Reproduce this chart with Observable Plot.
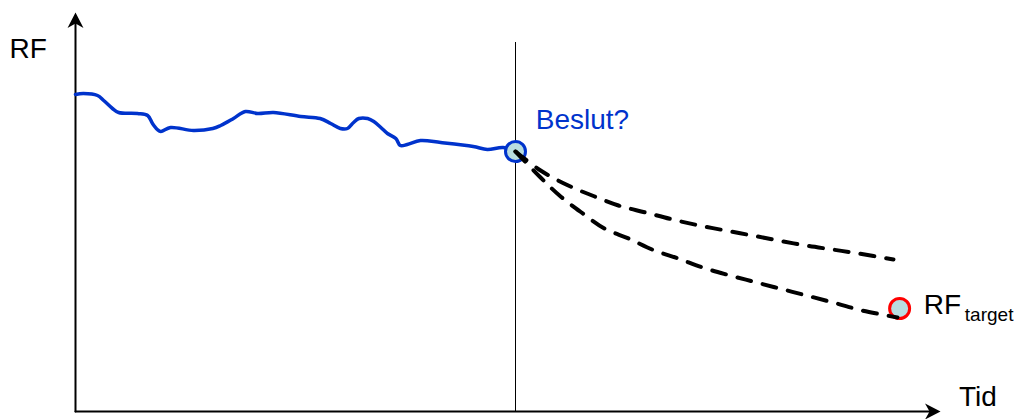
<!DOCTYPE html>
<html>
<head>
<meta charset="utf-8">
<script src="https://cdn.jsdelivr.net/npm/d3@7"></script>
<script src="https://cdn.jsdelivr.net/npm/@observablehq/plot@0.6"></script>
<style>
  html, body { margin: 0; padding: 0; background: #fff; }
  #chart { width: 1021px; height: 419px; }
</style>
</head>
<body>
<div id="chart"></div>
<script>
// Observed RF history (time units, RF units)
const historyT  = [0, 0.9, 2.5, 3.2, 4.2, 4.9, 7.05, 8.2, 8.75, 9.3, 9.7, 10.8, 13.4, 15.6, 16.5, 17.95, 19.3, 20.7, 22.5, 25.6, 27.8, 29.0, 30.1, 30.9, 31.6, 32.2, 33.2, 33.9, 34.7, 35.45, 36.4, 36.9, 37.7, 39.2, 41.5, 45.2, 46.8, 48.6, 50];
const historyRF = [79.25, 79.5, 79.0, 77.75, 75.75, 74.75, 74.5, 74.0, 72.0, 70.5, 70.0, 71.0, 70.25, 70.75, 71.5, 73.25, 75.0, 74.5, 74.75, 73.75, 73.25, 72.0, 70.75, 70.75, 72.25, 73.25, 73.25, 72.5, 71.0, 69.5, 68.25, 66.5, 66.75, 67.75, 67.25, 66.25, 65.5, 66.0, 65.0];

// Projected scenarios after the decision
const upperT  = [50, 52.85, 56.0, 59.0, 61.7, 64.8, 67.85, 70.9, 73.85, 76.9, 79.9, 82.95, 86.0, 89.0, 92.95];
const upperRF = [65, 60.25, 56.5, 53.75, 51.5, 49.75, 48.0, 46.5, 45.25, 44.0, 42.75, 41.5, 40.5, 39.5, 38.0];
const lowerT  = [50, 52.85, 55.0, 57.5, 60.1, 62.85, 65.8, 68.5, 71.25, 74.4, 77.4, 80.45, 83.5, 86.5, 89.4, 93.4];
const lowerRF = [65, 58.5, 54.0, 49.75, 45.75, 43.25, 40.25, 38.25, 36.0, 34.0, 32.25, 30.5, 28.75, 27.0, 25.25, 23.5];

// Key points
const decisionT = 50, decisionRF = 65, decisionRuleTop = 92.25;
const targetT = 93.65, targetRF = 25.75;

// Axis extents
const axisEndT = 98.3, axisEndRF = 99.75;

// Labels
const labelTexts = ["RF", "Tid", "Beslut?", "RF"];
const labelT     = [-7.5, 100.4, 52.3, 96.4];
const labelRF    = [88.5, 1.5, 70.75, 24.5];
const labelColor = ["#000", "#000", "#0033cc", "#000"];
const subText = "target";

const history = historyT.map((t, i) => ({t, rf: historyRF[i]}));
const scenarios = [
  ...upperT.map((t, i) => ({t, rf: upperRF[i], s: "upper"})),
  ...lowerT.map((t, i) => ({t, rf: lowerRF[i], s: "lower"}))
];
const labels = labelTexts.map((text, i) => ({text, t: labelT[i], rf: labelRF[i], c: labelColor[i]}));

const arrowHead = {
  draw(ctx) {
    ctx.moveTo(0, 0);
    ctx.lineTo(-8, 15.5);
    ctx.lineTo(0, 11);
    ctx.lineTo(8, 15.5);
    ctx.closePath();
  }
};

const chart = Plot.plot({
  width: 1021,
  height: 419,
  marginLeft: 75,
  marginRight: 66,
  marginTop: 11,
  marginBottom: 8,
  x: {domain: [0, 100], axis: null},
  y: {domain: [0, 100], axis: null},
  style: {fontFamily: "'Liberation Sans', Arial, sans-serif", background: "#fff", overflow: "visible"},
  marks: [
    // axes
    Plot.line([{t: 0, rf: 0}, {t: axisEndT - 1, rf: 0}], {x: "t", y: "rf", stroke: "#000", strokeWidth: 2}),
    Plot.line([{t: 0, rf: 0}, {t: 0, rf: axisEndRF - 2}], {x: "t", y: "rf", stroke: "#000", strokeWidth: 2}),
    Plot.dot([{t: 0, rf: axisEndRF}], {x: "t", y: "rf", symbol: arrowHead, fill: "#000", stroke: "none", r: 5}),
    Plot.dot([{t: axisEndT, rf: 0}], {x: "t", y: "rf", symbol: arrowHead, fill: "#000", stroke: "none", r: 5, rotate: 90}),
    // decision time rule
    Plot.ruleX([decisionT], {y1: 0, y2: decisionRuleTop, stroke: "#000", strokeWidth: 1}),
    // history
    Plot.line(history, {x: "t", y: "rf", stroke: "#0033cc", strokeWidth: 3.5, curve: "catmull-rom"}),
    // decision & target points
    Plot.dot([{t: decisionT, rf: decisionRF}], {x: "t", y: "rf", r: 10, fill: "#b9dde0", stroke: "#0033cc", strokeWidth: 3}),
    Plot.dot([{t: targetT, rf: targetRF}], {x: "t", y: "rf", r: 10, fill: "#b9dde0", stroke: "#ff0000", strokeWidth: 3}),
    // scenarios
    Plot.line(scenarios, {x: "t", y: "rf", z: "s", stroke: "#000", strokeWidth: 4, strokeDasharray: "14,12", curve: "catmull-rom"}),
    // labels
    Plot.text(labels, {x: "t", y: "rf", text: "text", fill: "c", textAnchor: "start", lineAnchor: "bottom", fontSize: 28}),
    Plot.text([{t: labelT[3], rf: labelRF[3]}], {x: "t", y: "rf", text: () => subText, dx: 41, dy: 7, textAnchor: "start", lineAnchor: "bottom", fontSize: 19, fill: "#000"})
  ]
});
document.getElementById("chart").appendChild(chart);
</script>
</body>
</html>
